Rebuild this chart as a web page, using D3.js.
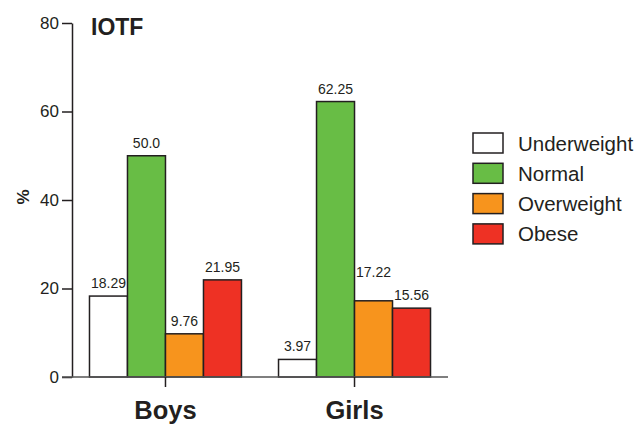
<!DOCTYPE html>
<html>
<head>
<meta charset="utf-8">
<script src="https://cdn.jsdelivr.net/npm/d3@7"></script>
<style>
  body { margin: 0; background: #fff; }
  text { font-family: "Liberation Sans", Arial, sans-serif; fill: #231f20; }
</style>
</head>
<body>
<div id="chart"></div>
<script>
// data
var groups = ['Boys', 'Girls'];
var categories = ['Underweight', 'Normal', 'Overweight', 'Obese'];
var boysValues = [18.29, 50.0, 9.76, 21.95];
var girlsValues = [3.97, 62.25, 17.22, 15.56];
var boysLabels = ['18.29', '50.0', '9.76', '21.95'];
var girlsLabels = ['3.97', '62.25', '17.22', '15.56'];
var yTicks = [0, 20, 40, 60, 80];

var colors = ['#ffffff', '#68bd45', '#f7941d', '#ee3124'];
var ink = '#231f20';

var svg = d3.select('#chart')
	.append('svg')
		.attr('width', 639)
		.attr('height', 424);

var y = d3.scaleLinear().domain([0, 80]).range([377, 23]);

var x0 = d3.scaleBand()
	.domain(groups)
	.range([72, 448])
	.paddingInner(0.196)
	.paddingOuter(0.0925);

var x1 = d3.scaleBand()
	.domain(categories)
	.range([0, x0.bandwidth()]);

var color = d3.scaleOrdinal().domain(categories).range(colors);

// build rows from the arrays
var rows = [];
groups.forEach(function(g, gi){
	var vals = gi === 0 ? boysValues : girlsValues;
	var labs = gi === 0 ? boysLabels : girlsLabels;
	categories.forEach(function(c, ci){
		rows.push({group: g, cat: c, value: vals[ci], label: labs[ci]});
	});
});

// bars
svg.append('g').selectAll('rect')
	.data(rows)
	.enter().append('rect')
		.attr('x', function(d){ return x0(d.group) + x1(d.cat); })
		.attr('y', function(d){ return y(d.value); })
		.attr('width', x1.bandwidth())
		.attr('height', function(d){ return y(0) - y(d.value); })
		.attr('fill', function(d){ return color(d.cat); })
		.attr('stroke', ink)
		.attr('stroke-width', 1.5);

// value labels (the girls overweight one sits higher in the original)
var lift = function(d){ return (d.group === 'Girls' && d.cat === 'Overweight') ? 24 : 8; };
svg.append('g').selectAll('text')
	.data(rows)
	.enter().append('text')
		.attr('x', function(d){ return x0(d.group) + x1(d.cat) + x1.bandwidth() / 2; })
		.attr('y', function(d){ return y(d.value) - lift(d); })
		.attr('text-anchor', 'middle')
		.style('font-size', '14px')
		.text(function(d){ return d.label; });

// y axis
var yAxis = svg.append('g')
	.attr('transform', 'translate(72,0)')
	.call(d3.axisLeft(y).tickValues(yTicks).tickSize(10).tickPadding(3).tickSizeOuter(0));
yAxis.select('.domain').attr('stroke', ink).attr('stroke-width', 1.5);
yAxis.selectAll('.tick line').attr('stroke', ink).attr('stroke-width', 1.5);
yAxis.selectAll('.tick text')
	.style('font-size', '17px')
	.style('font-family', '"Liberation Sans", Arial, sans-serif')
	.attr('fill', ink);

// x axis
var xAxis = svg.append('g')
	.attr('transform', 'translate(0,377)')
	.call(d3.axisBottom(x0).tickSize(10).tickSizeOuter(0).tickFormat(''));
xAxis.select('.domain').attr('stroke', '#555').attr('stroke-width', 1.5)
	.attr('d', 'M62,0H448');
xAxis.selectAll('.tick line').attr('stroke', ink).attr('stroke-width', 1.5);

svg.append('g').selectAll('text')
	.data(groups)
	.enter().append('text')
		.attr('x', function(d){ return x0(d) + x0.bandwidth() / 2; })
		.attr('y', 419)
		.attr('text-anchor', 'middle')
		.style('font-size', '25.5px')
		.style('font-weight', 'bold')
		.text(function(d){ return d; });

// y label and title
svg.append('text')
	.attr('transform', 'translate(29,197) rotate(-90)')
	.attr('text-anchor', 'middle')
	.style('font-size', '17px')
	.style('font-weight', 'bold')
	.text('%');

svg.append('text')
	.attr('x', 91)
	.attr('y', 35)
	.style('font-size', '23px')
	.style('font-weight', 'bold')
	.text('IOTF');

// legend
var legend = svg.append('g').selectAll('g')
	.data(categories)
	.enter().append('g')
		.attr('transform', function(d, i){ return 'translate(473,' + (133 + i * 30.3) + ')'; });

legend.append('rect')
	.attr('width', 30)
	.attr('height', 20)
	.attr('fill', function(d){ return color(d); })
	.attr('stroke', ink)
	.attr('stroke-width', 1.5);

legend.append('text')
	.attr('x', 45)
	.attr('y', 17.5)
	.style('font-size', '20.5px')
	.text(function(d){ return d; });
</script>
</body>
</html>
